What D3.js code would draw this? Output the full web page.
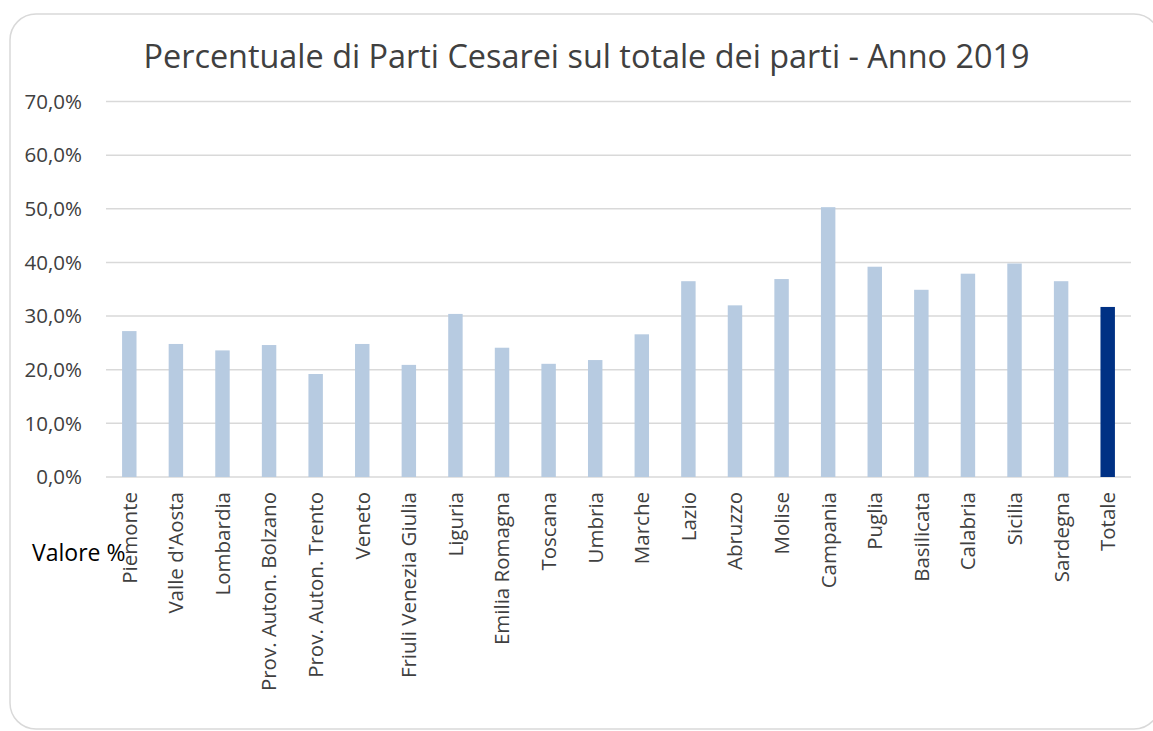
<!DOCTYPE html>
<html><head><meta charset="utf-8">
<script src="https://cdn.jsdelivr.net/npm/d3@7"></script>
<style>body{margin:0;background:#fff;} svg{display:block;}</style>
</head><body>
<script>
const categories = ["Piemonte","Valle d'Aosta","Lombardia","Prov. Auton. Bolzano","Prov. Auton. Trento","Veneto","Friuli Venezia Giulia","Liguria","Emilia Romagna","Toscana","Umbria","Marche","Lazio","Abruzzo","Molise","Campania","Puglia","Basilicata","Calabria","Sicilia","Sardegna","Totale"];
const values = [27.2,24.8,23.6,24.6,19.2,24.8,20.9,30.4,24.1,21.1,21.8,26.6,36.5,32.0,36.9,50.3,39.2,34.9,37.9,39.8,36.5,31.7];
const yTicks = [0,10,20,30,40,50,60,70];
const title = "Percentuale di Parti Cesarei sul totale dei parti - Anno 2019";
const yAxisTitle = "Valore %";

const W = 1153, H = 731;
const svg = d3.select("body").append("svg").attr("width", W).attr("height", H);
const font = "'Open Sans', sans-serif";

svg.append("rect").attr("x",10).attr("y",14).attr("width",1150).attr("height",715)
  .attr("rx",26).attr("fill","#fff").attr("stroke","#d9d9d9").attr("stroke-width",1.5);

const x = d3.scaleBand().domain(categories).range([106,1131]).paddingInner(0.69).paddingOuter(0.345);
const y = d3.scaleLinear().domain([0,70]).range([477,101.5]);

svg.append("g").selectAll("line").data(yTicks).join("line")
  .attr("x1",106).attr("x2",1131).attr("y1",d=>y(d)).attr("y2",d=>y(d))
  .attr("stroke","#d9d9d9").attr("stroke-width",1.5);

const fmt = d => d.toFixed(1).replace(".", ",") + "%";
svg.append("g").selectAll("text").data(yTicks).join("text")
  .attr("x",82).attr("y",d=>y(d)).attr("dy","0.35em").attr("text-anchor","end")
  .attr("font-family",font).attr("font-size",20.5).attr("fill","#404040").text(fmt);

svg.append("g").selectAll("rect").data(categories).join("rect")
  .attr("x",d=>x(d)).attr("width",x.bandwidth())
  .attr("y",(d,i)=>y(values[i])).attr("height",(d,i)=>y(0)-y(values[i]))
  .attr("fill",d=> d==="Totale" ? "#003184" : "#b7cbe1");

svg.append("g").selectAll("text").data(categories).join("text")
  .attr("transform",d=>`translate(${x(d)+x.bandwidth()/2},492) rotate(-90)`)
  .attr("dy","0.36em").attr("text-anchor","end")
  .attr("font-family",font).attr("font-size",20.5).attr("fill","#404040").text(d=>d);

svg.append("text").attr("x",586.5).attr("y",68).attr("text-anchor","middle")
  .attr("font-family",font).attr("font-size",32.4).attr("fill","#404040").text(title);

svg.append("text").attr("x",32).attr("y",561)
  .attr("font-family",font).attr("font-size",23).attr("fill","#000").text(yAxisTitle);
</script>
</body></html>
